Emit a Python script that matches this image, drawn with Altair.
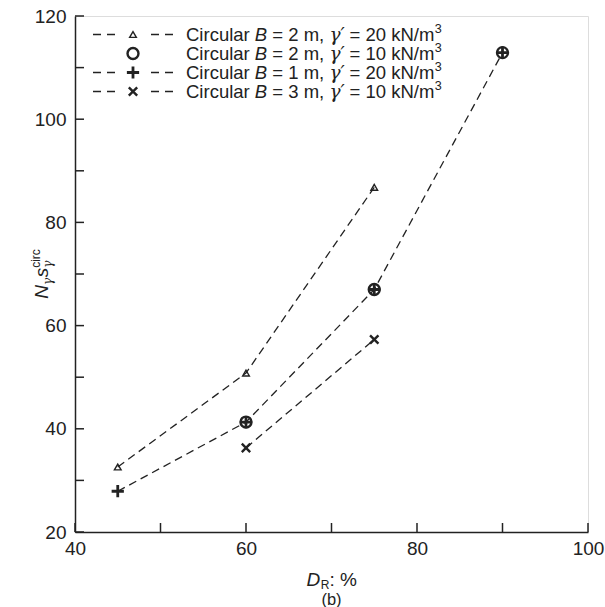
import altair as alt
import pandas as pd

# ---------------- data ----------------
dr_tri = [45, 60, 75]
n_tri = [32.6, 50.8, 86.8]          # Circular B = 2 m, gamma' = 20
dr_circ = [60, 75, 90]
n_circ = [41.3, 67.0, 112.9]        # Circular B = 2 m, gamma' = 10
dr_plus = [45, 60, 75, 90]
n_plus = [27.9, 41.3, 67.0, 112.9]  # Circular B = 1 m, gamma' = 20
dr_x = [60, 75]
n_x = [36.3, 57.3]                  # Circular B = 3 m, gamma' = 10

x_ticks = [40, 50, 60, 70, 80, 90, 100]
x_labels = [40, 60, 80, 100]
y_ticks = [20, 30, 40, 50, 60, 70, 80, 90, 100, 110, 120]
y_labels = [20, 40, 60, 80, 100, 120]

leg_B = ["2", "2", "1", "3"]
leg_g = ["20", "10", "20", "10"]
leg_shape = ["tri", "circ", "plus", "x"]

# ---------------- style ----------------
W, H = 513, 516
FONT = "Liberation Sans"
GFONT = "DejaVu Serif"
INK = "#222222"
FS = 19
DASH = [8, 5]

xs = alt.Scale(domain=[40, 100], nice=False, zero=False)
ys = alt.Scale(domain=[20, 120], nice=False, zero=False)
ax_x = alt.Axis(values=x_labels, tickSize=0, labelFontSize=FS, labelFont=FONT, labelColor=INK,
                domainColor=INK, domainWidth=1.5, labelPadding=7, grid=False, title=None,
                labelFlush=False)
ax_y = alt.Axis(values=y_labels, tickSize=0, labelFontSize=FS, labelFont=FONT, labelColor=INK,
                domainColor=INK, domainWidth=1.5, labelPadding=9, grid=False, title=None)

PLUS = "M-1,0H1M0,-1V1"
CROSS = "M-1,-1L1,1M-1,1L1,-1"

one = pd.DataFrame({"a": [0]})


def df(xv, yv):
    return pd.DataFrame({"dr": xv, "n": yv})


def enc(ch):
    return ch.encode(x=alt.X("dr:Q", scale=xs, axis=ax_x), y=alt.Y("n:Q", scale=ys, axis=ax_y))


def line(xv, yv):
    return enc(alt.Chart(df(xv, yv)).mark_line(strokeDash=DASH, strokeWidth=1.3, color=INK))


def marker(c, kind):
    if kind == "tri":
        return c.mark_point(shape="triangle-up", size=45, filled=False, strokeWidth=1.4, color=INK, opacity=1)
    if kind == "circ":
        return c.mark_point(shape="circle", size=120, filled=False, strokeWidth=2.4, color=INK, opacity=1)
    if kind == "plus":
        return c.mark_point(shape=PLUS, size=150, filled=False, strokeWidth=2.8, color=INK, opacity=1)
    return c.mark_point(shape=CROSS, size=70, filled=False, strokeWidth=2.4, color=INK, opacity=1)


def pts(xv, yv, kind):
    return enc(marker(alt.Chart(df(xv, yv)), kind))


def mk(kind, x, y):
    return marker(alt.Chart(one), kind).encode(x=alt.value(x), y=alt.value(y))


def txt(s, x, y, size=FS, style="normal", angle=0, align="left", baseline="alphabetic", font=FONT):
    return alt.Chart(one).mark_text(text=s, fontSize=size, fontStyle=style, font=font, angle=angle,
                                    align=align, baseline=baseline, color=INK).encode(
        x=alt.value(x), y=alt.value(y))


def seg(x1, x2, y):
    return alt.Chart(one).mark_rule(strokeDash=[8, 6], strokeWidth=1.3, color=INK).encode(
        x=alt.value(x1), x2=alt.value(x2), y=alt.value(y))


# Arial / Liberation Sans advance widths (per 1000 em)
AW = {" ": 278, "C": 722, "i": 222, "r": 333, "c": 500, "u": 556, "l": 222, "a": 556, "B": 667,
      "=": 584, "m": 833, ",": 278, "k": 500, "N": 722, "/": 278, "γ": 560, "′": 250, "s": 500,
      "D": 722, "R": 722, ":": 278, "%": 889}


def tw(s, size):
    return sum(AW.get(ch, 556) for ch in s) / 1000.0 * size


layers = []
# ticks (inward)
layers.append(alt.Chart(pd.DataFrame({"dr": x_ticks})).mark_rule(color=INK, strokeWidth=1.5).encode(
    x=alt.X("dr:Q", scale=xs, axis=ax_x), y=alt.value(H), y2=alt.value(H - 9)))
layers.append(alt.Chart(pd.DataFrame({"n": y_ticks})).mark_rule(color=INK, strokeWidth=1.5).encode(
    y=alt.Y("n:Q", scale=ys, axis=ax_y), x=alt.value(0), x2=alt.value(9)))

# series
layers += [line(dr_tri, n_tri), line(dr_plus, n_plus), line(dr_x, n_x)]
layers += [pts(dr_tri, n_tri, "tri"), pts(dr_circ, n_circ, "circ"),
           pts(dr_plus, n_plus, "plus"), pts(dr_x, n_x, "x")]

# legend
LF = 18.5
row_y = [18.5, 37.5, 56.5, 75.5]
for i in range(4):
    yy = row_y[i]
    if leg_shape[i] != "circ":
        layers.append(seg(18, 40, yy))
        layers.append(seg(76, 98, yy))
    layers.append(mk(leg_shape[i], 58, yy))
    base = yy + 0.36 * LF
    x0 = 111
    parts = [("Circular ", "normal", FONT), ("B", "italic", FONT),
             (" = %s m, " % leg_B[i], "normal", FONT),
             ("γ′", "italic", GFONT), (" = %s kN/m" % leg_g[i], "normal", FONT)]
    for s, st, fnt in parts:
        lead = len(s) - len(s.lstrip(" "))
        layers.append(txt(s.strip(" "), x0 + tw(" " * lead, LF), base, LF, st, font=fnt))
        x0 += tw(s, LF)
    layers.append(txt("3", x0 + 0.5, base - 0.42 * LF, 0.68 * LF))

# x title  D_R: %
xt_w = tw("D", FS) + tw("R", 12) + tw(": %", FS)
xs0 = W / 2 - xt_w / 2
xb = 570
layers.append(txt("D", xs0, xb, FS, "italic"))
layers.append(txt("R", xs0 + tw("D", FS) + 0.5, xb + 2.5, 12))
layers.append(txt(":", xs0 + tw("D", FS) + tw("R", 12) + 0.5, xb, FS))
layers.append(txt("%", xs0 + tw("D", FS) + tw("R", 12) + tw(": ", FS) + 0.5, xb, FS))
layers.append(txt("(b)", W / 2, 589, 16.5, align="center"))

# y title  N_gamma s_gamma^circ (rotated)
yb = -27
yt_w = tw("N", FS) + tw("γ", 12) + tw("s", FS) + tw("circ", 12) + 1
y0 = H / 2 + yt_w / 2
p = y0
layers.append(txt("N", yb, p, FS, "italic", angle=270)); p -= tw("N", FS)
layers.append(txt("γ", yb + 4, p, 12, "italic", angle=270, font=GFONT)); p -= tw("γ", 12) + 1
layers.append(txt("s", yb, p, FS, "italic", angle=270)); p -= tw("s", FS)
layers.append(txt("γ", yb + 4, p, 12, "italic", angle=270, font=GFONT))
layers.append(txt("circ", yb - 8, p, 12, "normal", angle=270))

chart = alt.layer(*layers).properties(
    width=W, height=H,
    autosize=alt.AutoSizeParams(type="none"),
    padding={"left": 75, "top": 16, "right": 17, "bottom": 75},
).configure_view(stroke=None).configure(background="white")

chart.save("out.html", embed_options={"renderer": "svg", "actions": False})
